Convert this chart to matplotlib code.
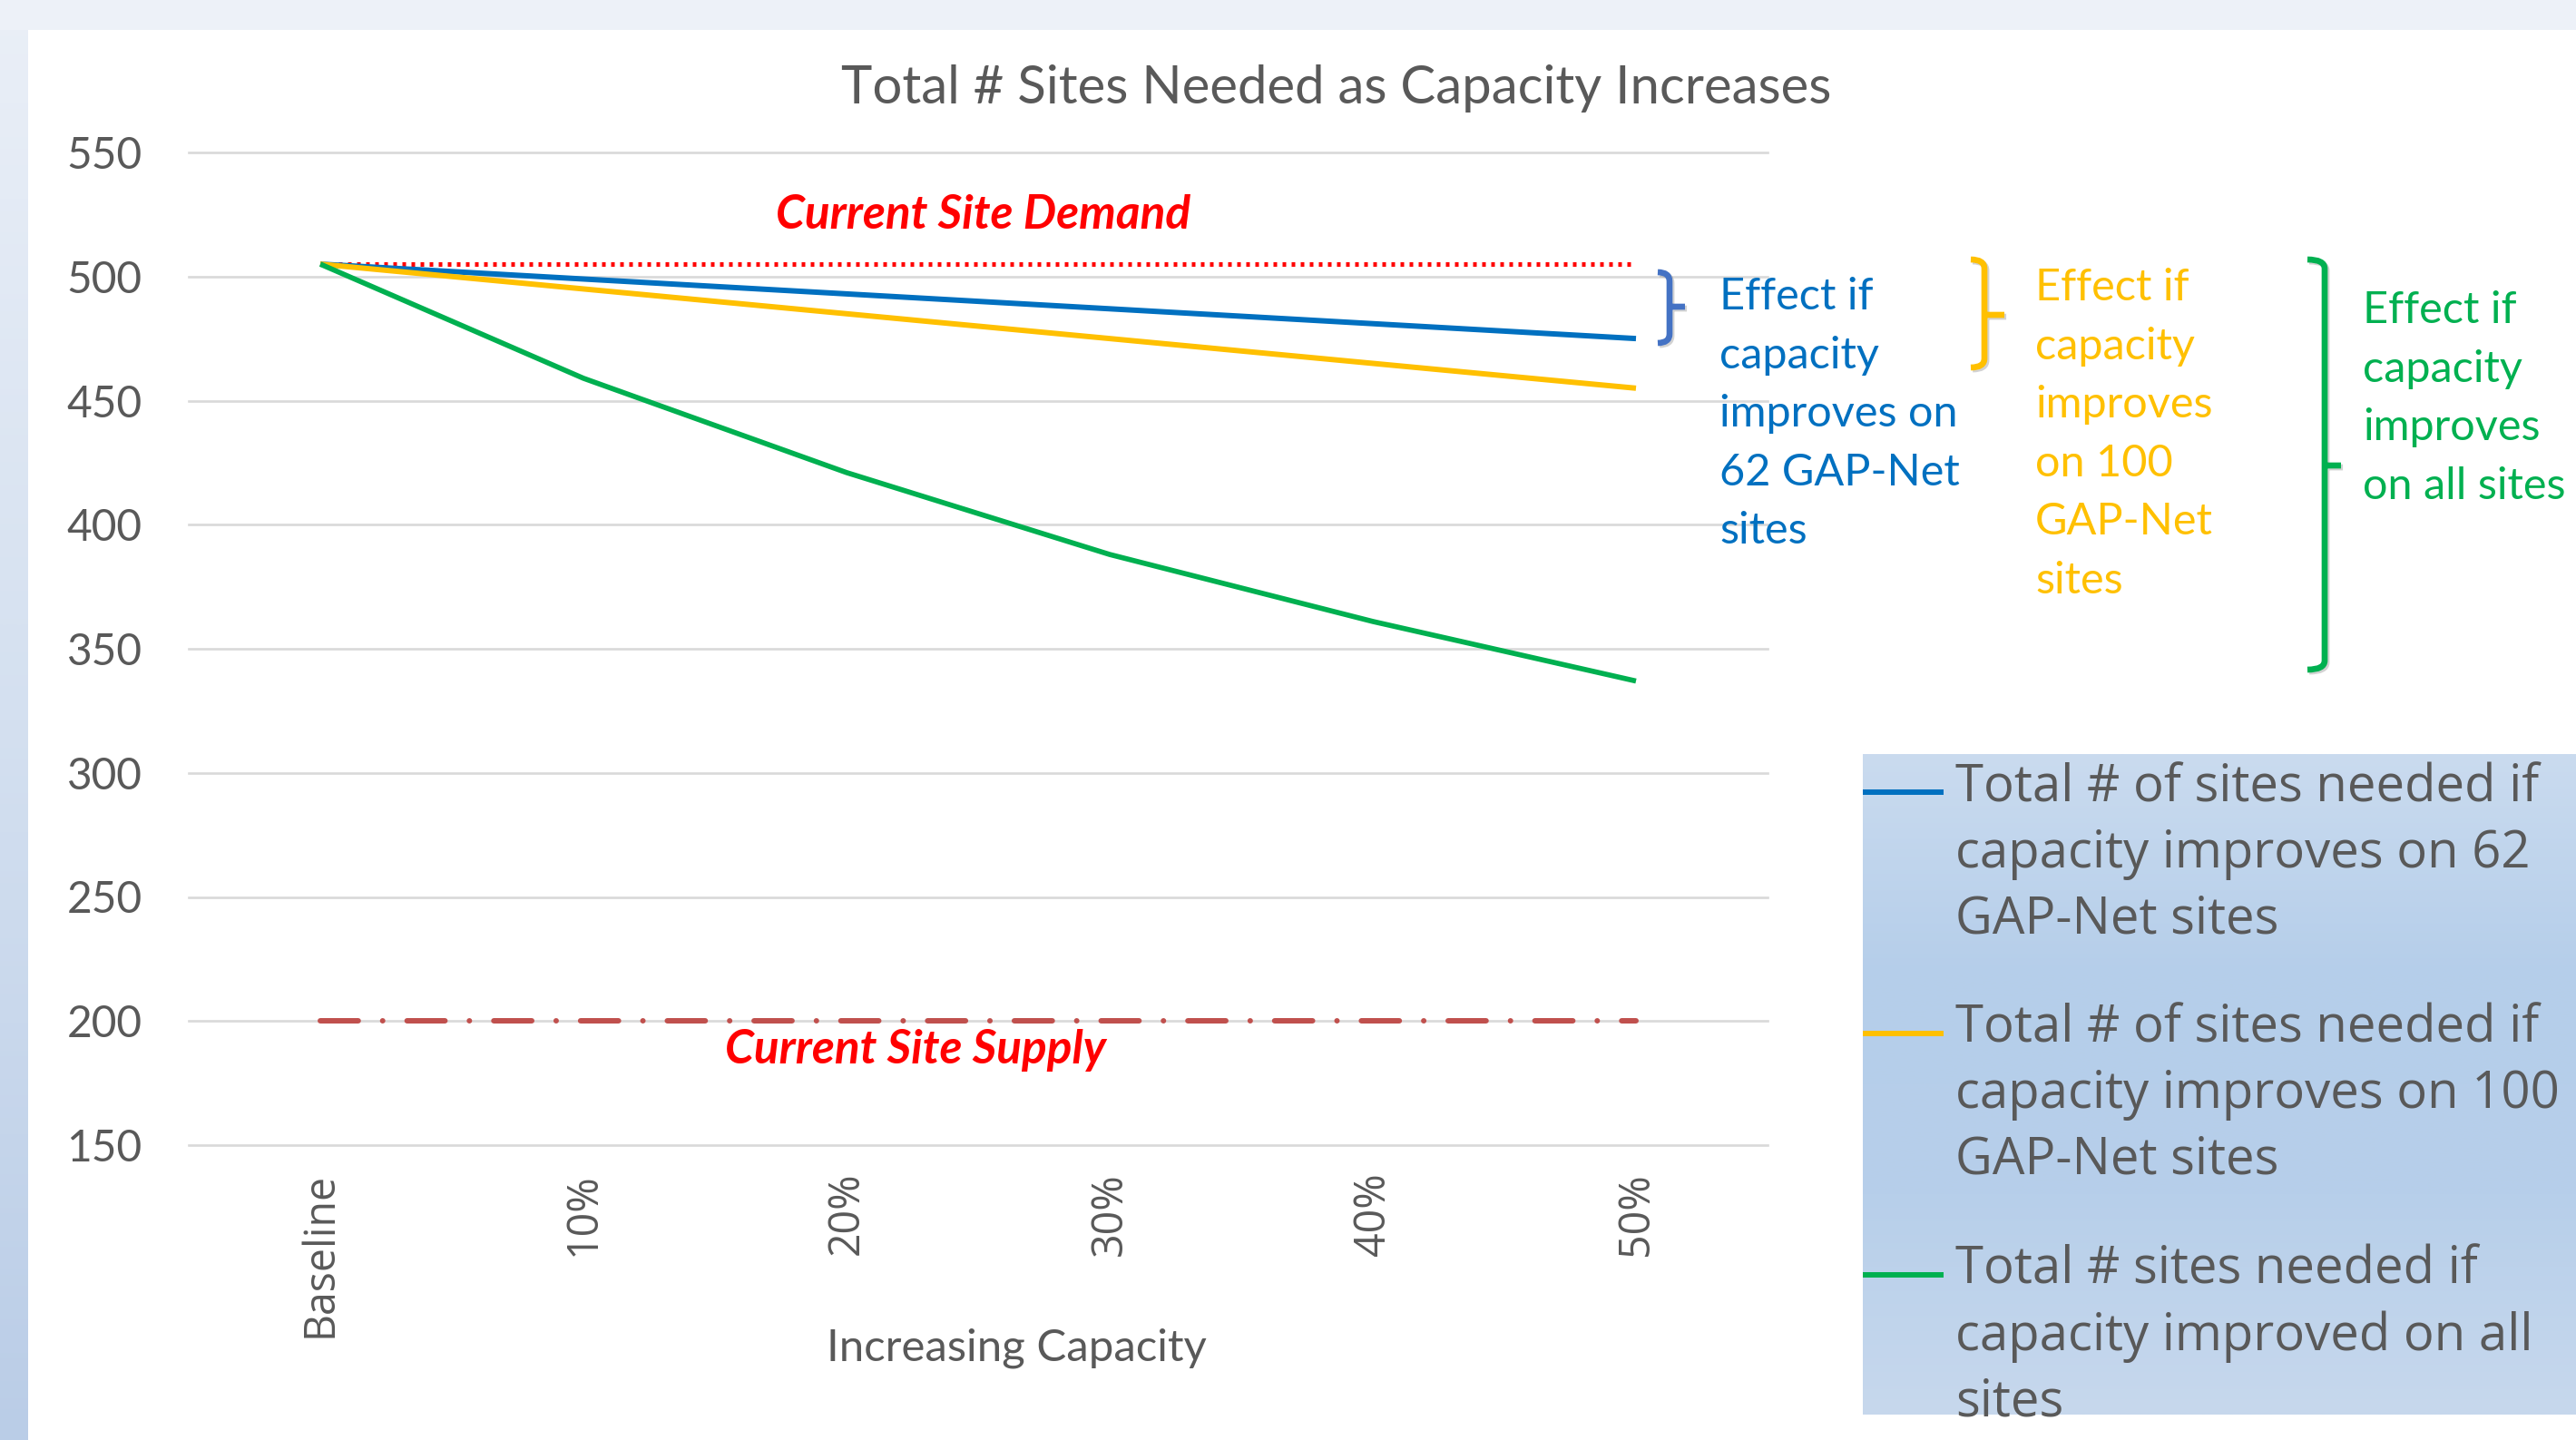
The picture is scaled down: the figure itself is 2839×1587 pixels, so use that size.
import numpy as np
import matplotlib
matplotlib.use("Agg")
import matplotlib.pyplot as plt
from matplotlib.path import Path
from matplotlib.patches import PathPatch, Rectangle
import matplotlib.patheffects as pe
from matplotlib.colors import LinearSegmentedColormap

# ---------------- data ----------------
categories = ["Baseline", "10%", "20%", "30%", "40%", "50%"]
sites_62_gapnet = [505, 499, 493, 487, 481, 475]
sites_100_gapnet = [505, 495, 485, 475, 465, 455]
sites_all = [505, 459, 421, 388, 361, 337]
current_demand = 505
current_supply = 200
y_ticks = [150, 200, 250, 300, 350, 400, 450, 500, 550]

series_labels = [
    "Total # of sites needed if\ncapacity improves on 62\nGAP-Net sites",
    "Total # of sites needed if\ncapacity improves on 100\nGAP-Net sites",
    "Total # sites needed if\ncapacity improved on all\nsites",
]
effect_labels = [
    "Effect if\ncapacity\nimproves on\n62 GAP-Net\nsites",
    "Effect if\ncapacity\nimproves\non 100\nGAP-Net\nsites",
    "Effect if\ncapacity\nimproves\non all sites",
]

BLUE, YELLOW, GREEN = "#0070C0", "#FFC000", "#00B050"
GREY = "#595959"

W, H, DPI = 2839, 1587, 100
fig = plt.figure(figsize=(W / DPI, H / DPI), dpi=DPI, facecolor="white")

# ---------------- background ----------------
bg = fig.add_axes([0, 0, 1, 1], zorder=0)


def vgrad(axx, x0, x1, y0, y1, cols):
    cmap = LinearSegmentedColormap.from_list(
        "g", [tuple(c / 255 for c in col) for col in cols])
    grad = np.linspace(0, 1, 256).reshape(-1, 1)
    axx.imshow(grad, cmap=cmap, extent=(x0, x1, y1, y0), aspect="auto",
               interpolation="bilinear", origin="upper")


vgrad(bg, 0, 31, 0, H, [(234, 239, 247), (212, 224, 240), (186, 205, 231)])
bg.add_patch(Rectangle((0, 0), W, 33, color=(237 / 255, 241 / 255, 248 / 255), lw=0))
vgrad(bg, 2053, W, 831, 1559, [(202, 219, 239), (181, 206, 234), (183, 207, 234), (199, 216, 237)])
bg.set_xlim(0, W)
bg.set_ylim(H, 0)
bg.axis("off")

# ---------------- main axes ----------------
ax = fig.add_axes([208 / W, 1 - 1262 / H, 1740 / W, 1094 / H], zorder=1)
ax.patch.set_alpha(0)
x = np.arange(len(categories))

ax.plot(x, np.full(len(x), current_supply), color="#C0504D", lw=4.3,
        dashes=(7, 4.5, 0.01, 4.5), dash_capstyle="round", zorder=2)
ax.plot(x, np.full(len(x), current_demand), color="#FF0000", lw=3.6,
        dashes=(0.8, 1.2), dash_capstyle="butt", zorder=2)
l1, = ax.plot(x, sites_62_gapnet, color=BLUE, lw=4.3, zorder=3, solid_capstyle="butt")
l2, = ax.plot(x, sites_100_gapnet, color=YELLOW, lw=4.3, zorder=4, solid_capstyle="butt")
l3, = ax.plot(x, sites_all, color=GREEN, lw=4.1, zorder=5, solid_capstyle="butt")

ax.set_xlim(-0.5, len(categories) - 0.5)
ax.set_ylim(150, 550)
ax.set_yticks(y_ticks)
ax.set_xticks(x)
ax.set_xticklabels(categories, rotation=90, fontfamily="Open Sans", fontsize=33.5, color=GREY)
ax.set_yticklabels([str(v) for v in y_ticks], fontfamily="Lato", fontsize=34.5, color=GREY)
ax.tick_params(length=0)
ax.tick_params(axis="x", pad=21.5)
ax.tick_params(axis="y", pad=37)
ax.grid(axis="y", color="#D9D9D9", lw=1.9)
ax.grid(axis="x", visible=False)
ax.set_axisbelow(True)
for gl in ax.get_ygridlines():
    gl.set_clip_on(False)
for s in ax.spines.values():
    s.set_visible(False)

ax.set_xlabel("Increasing Capacity", fontfamily="Lato", fontsize=35.4, color=GREY,
              va="baseline", ha="center")
ax.xaxis.set_label_coords((1120 - 208) / 1740, (1262 - 1499) / 1094)

ax.text(2.52, 519.3, "Current Site Demand", color="#FF0000", fontfamily="Lato",
        fontsize=37, fontweight="bold", fontstyle="italic", ha="center", va="baseline")
ax.text(2.262, 182.9, "Current Site Supply", color="#FF0000", fontfamily="Lato",
        fontsize=37, fontweight="bold", fontstyle="italic", ha="center", va="baseline")

# legend
leg = ax.legend([l1, l2, l3], series_labels, loc="upper left",
                bbox_to_anchor=(2053 / W, 1 - 840 / H), bbox_transform=fig.transFigure,
                frameon=False, prop={"family": "Open Sans", "size": 40.5},
                handlelength=1.58, handletextpad=0.23, labelspacing=1.13,
                borderpad=0, borderaxespad=0)
for t in leg.get_texts():
    t.set_color(GREY)
    t.set_linespacing(1.363)
for h in leg.legend_handles:
    yd = np.asarray(h.get_ydata(), dtype=float)
    h.set_ydata(yd + 50.5)
    h.set_linewidth(4.3)

# title
fig.text(1473 / W, 1 - 114 / H, "Total # Sites Needed as Capacity Increases",
         fontfamily="Lato", fontsize=41.9, color=GREY, ha="center", va="baseline")

# ---------------- overlay: braces + effect notes ----------------
ov = fig.add_axes([0, 0, 1, 1], zorder=3)
ov.set_xlim(0, W)
ov.set_ylim(H, 0)
ov.axis("off")
ov.patch.set_alpha(0)


def brace(xh, xv, xt, yt, ym, yb, color, r=10, lw=4.8):
    verts = [(xh, yt), (xv, yt), (xv, yt + r), (xv, yb - r), (xv, yb), (xh, yb),
             (xv, ym), (xt, ym)]
    codes = [Path.MOVETO, Path.CURVE3, Path.CURVE3, Path.LINETO, Path.CURVE3, Path.CURVE3,
             Path.MOVETO, Path.LINETO]
    p = PathPatch(Path(verts, codes), fill=False, edgecolor=color, lw=lw,
                  capstyle="butt", joinstyle="round")
    p.set_path_effects([pe.SimpleLineShadow(offset=(1.5, -1.5), shadow_color="gray", alpha=0.35),
                        pe.Normal()])
    ov.add_patch(p)


brace(1827, 1840, 1857, 300, 338, 378, "#4472C4")
brace(2172, 2187, 2209, 286, 347, 405, YELLOW)
brace(2543, 2562, 2580, 286, 513, 738, GREEN)

note_kw = dict(fontfamily="Lato", fontsize=35, ha="left", va="top", linespacing=1.57)
ov.text(1895, 305, effect_labels[0], color=BLUE, **note_kw)
ov.text(2243, 295, effect_labels[1], color=YELLOW, **note_kw)
ov.text(2604, 320, effect_labels[2], color=GREEN, **note_kw)

fig.savefig("out.png", dpi=DPI, facecolor=fig.get_facecolor())
